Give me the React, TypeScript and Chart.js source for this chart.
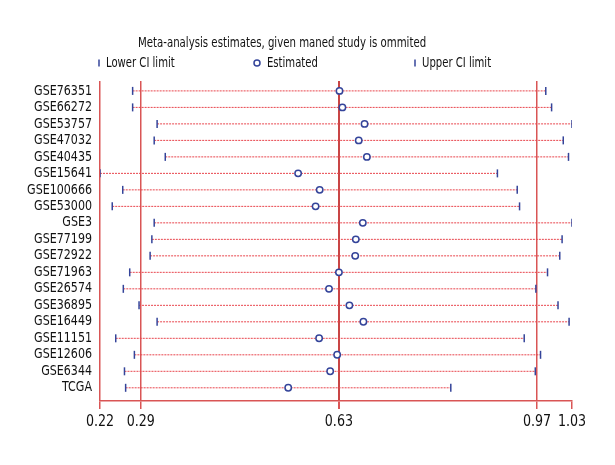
import React, { useEffect, useRef } from "react";
import { Chart, registerables } from "chart.js";

Chart.register(...registerables);

const studies = [
  "GSE76351", "GSE66272", "GSE53757", "GSE47032", "GSE40435", "GSE15641",
  "GSE100666", "GSE53000", "GSE3", "GSE77199", "GSE72922", "GSE71963",
  "GSE26574", "GSE36895", "GSE16449", "GSE11151", "GSE12606", "GSE6344", "TCGA",
];
const lowerCI = [0.276, 0.276, 0.318, 0.313, 0.332, 0.22, 0.259, 0.241, 0.313, 0.309, 0.306, 0.271, 0.26, 0.287, 0.318, 0.247, 0.279, 0.262, 0.264];
const estimated = [0.631, 0.636, 0.674, 0.664, 0.678, 0.56, 0.597, 0.59, 0.671, 0.659, 0.658, 0.63, 0.613, 0.648, 0.672, 0.596, 0.627, 0.615, 0.543];
const upperCI = [0.985, 0.995, 1.03, 1.015, 1.024, 0.902, 0.936, 0.94, 1.03, 1.013, 1.009, 0.988, 0.968, 1.006, 1.025, 0.948, 0.976, 0.967, 0.822];
const xTicks = [0.22, 0.29, 0.63, 0.97, 1.03];
const titleText = "Meta-analysis estimates, given maned study is ommited";
const legendLabels = ["Lower CI limit", "Estimated", "Upper CI limit"];

const FONT = "'Liberation Sans Narrow', 'DejaVu Sans Condensed', sans-serif";
const BLUE = "#34449a";
const RED = "#d95555";
const DOT_RED = "#e8454d";

function condensedText(ctx: any, text: string, x: number, y: number, align: string, sx: number) {
  ctx.save();
  ctx.translate(x, y);
  ctx.scale(sx, 1);
  ctx.textAlign = align;
  ctx.fillText(text, 0, 0);
  ctx.restore();
}

export default function App() {
  const ref = useRef<HTMLCanvasElement>(null);
  useEffect(() => {
    document.body.style.margin = "0";
    const canvas = ref.current!;
    const lineData: any[] = [];
    studies.forEach((_, i) => {
      lineData.push({ x: lowerCI[i], y: i });
      lineData.push({ x: upperCI[i], y: i });
      lineData.push({ x: upperCI[i], y: null });
    });

    const textPlugin = {
      id: "texts",
      afterDraw(chart: any) {
        const ctx = chart.ctx;
        const xs = chart.scales.x;
        const ys = chart.scales.y;
        ctx.save();
        ctx.fillStyle = "#111";
        ctx.textBaseline = "middle";
        ctx.font = `14.5px ${FONT}`;
        condensedText(ctx, titleText, 138, 43, "left", 0.78);
        const ly = 63;
        ctx.font = `14px ${FONT}`;
        ctx.strokeStyle = BLUE;
        ctx.lineWidth = 1.5;
        ctx.beginPath();
        ctx.moveTo(99, ly - 3.5);
        ctx.lineTo(99, ly + 3.5);
        ctx.stroke();
        condensedText(ctx, legendLabels[0], 106, ly, "left", 0.8);
        ctx.beginPath();
        ctx.arc(257, ly, 3, 0, Math.PI * 2);
        ctx.fillStyle = "#fff";
        ctx.fill();
        ctx.stroke();
        ctx.fillStyle = "#111";
        condensedText(ctx, legendLabels[1], 267, ly, "left", 0.8);
        ctx.beginPath();
        ctx.moveTo(415, ly - 3.5);
        ctx.lineTo(415, ly + 3.5);
        ctx.stroke();
        condensedText(ctx, legendLabels[2], 422, ly, "left", 0.8);
        // y labels
        studies.forEach((s, i) => {
          condensedText(ctx, s, 92, ys.getPixelForValue(i), "right", 0.88);
        });
        // x labels
        ctx.font = `16px ${FONT}`;
        xTicks.forEach((v) => {
          condensedText(ctx, v.toFixed(2), xs.getPixelForValue(v), 422, "center", 0.88);
        });
        ctx.restore();
      },
    };

    const chart = new Chart(canvas, {
      type: "scatter",
      data: {
        datasets: [
          {
            label: legendLabels[1],
            data: estimated.map((v, i) => ({ x: v, y: i })),
            pointStyle: "circle",
            pointRadius: 3.2,
            backgroundColor: "#ffffff",
            borderColor: BLUE,
            borderWidth: 1.5,
          },
          {
            label: legendLabels[0],
            data: lowerCI.map((v, i) => ({ x: v, y: i })),
            pointStyle: "line",
            rotation: 90,
            pointRadius: 4,
            borderColor: BLUE,
            borderWidth: 1.5,
          },
          {
            label: legendLabels[2],
            data: upperCI.map((v, i) => ({ x: v, y: i })),
            pointStyle: "line",
            rotation: 90,
            pointRadius: 4,
            borderColor: BLUE,
            borderWidth: 1.5,
          },
          {
            type: "line",
            label: "range",
            data: lineData,
            borderColor: DOT_RED,
            borderWidth: 1,
            borderDash: [2, 1],
            pointRadius: 0,
            spanGaps: false,
            showLine: true,
          } as any,
        ],
      },
      options: {
        animation: false,
        responsive: false,
        maintainAspectRatio: false,
        layout: { padding: { top: 81, right: 43, left: 0, bottom: 0 } },
        plugins: { legend: { display: false }, title: { display: false }, tooltip: { enabled: false } },
        scales: {
          x: {
            type: "linear",
            min: 0.22,
            max: 1.03,
            afterBuildTicks: (scale: any) => {
              scale.ticks = xTicks.map((v) => ({ value: v }));
            },
            afterFit: (scale: any) => {
              scale.height = 64;
            },
            ticks: {
              display: false,
              autoSkip: false,
              maxRotation: 0,
            },
            grid: {
              color: (c: any) => (c.tick && c.tick.value === 1.03 ? "rgba(0,0,0,0)" : c.tick && c.tick.value === 0.63 ? "#c94545" : RED),
              lineWidth: (c: any) => (c.tick && c.tick.value === 0.63 ? 2 : 1.5),
              tickColor: RED,
              tickLength: 8,
              drawTicks: true,
              drawOnChartArea: true,
            },
            border: { display: true, color: RED, width: 1.5 },
          },
          y: {
            type: "linear",
            reverse: true,
            min: -0.6,
            max: 18.8,
            afterBuildTicks: (scale: any) => {
              scale.ticks = studies.map((_, i) => ({ value: i }));
            },
            afterFit: (scale: any) => {
              scale.width = 100;
            },
            ticks: { display: false },
            grid: { display: false },
            border: { display: false },
          },
        },
      },
      plugins: [textPlugin],
    } as any);
    return () => chart.destroy();
  }, []);
  return <canvas ref={ref} width={615} height={465} style={{ display: "block" }} />;
}
